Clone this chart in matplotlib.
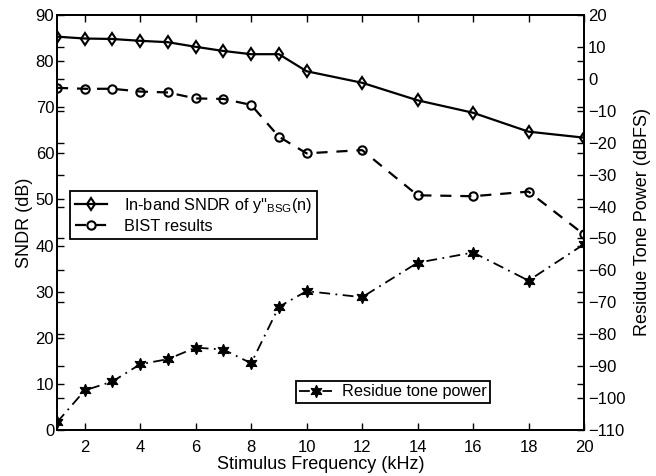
import matplotlib
matplotlib.use("Agg")
import matplotlib.pyplot as plt
import numpy as np

plt.rcParams['font.family'] = ['Liberation Sans', 'DejaVu Sans']
plt.rcParams['mathtext.fontset'] = 'custom'
plt.rcParams['mathtext.rm'] = 'Liberation Sans'
plt.rcParams['mathtext.it'] = 'Liberation Sans'
plt.rcParams['mathtext.default'] = 'regular'

freq = [1, 2, 3, 4, 5, 6, 7, 8, 9, 10, 12, 14, 16, 18, 20]
sndr = [85.3, 84.9, 84.8, 84.4, 84.1, 83.1, 82.2, 81.5, 81.5, 77.8, 75.3, 71.5, 68.8, 64.7, 63.4]
bist = [74.2, 74.0, 74.0, 73.4, 73.2, 71.9, 71.8, 70.5, 63.6, 60.0, 60.7, 50.9, 50.7, 51.7, 42.4]
residue = [-107.6, -97.6, -94.8, -89.4, -87.8, -84.2, -84.8, -89.1, -71.4, -66.5, -68.4, -57.6, -54.4, -63.2, -51.8]

xticks = [2, 4, 6, 8, 10, 12, 14, 16, 18, 20]
yticks_left = list(range(0, 91, 10))
yticks_right = list(range(-110, 21, 10))

fig = plt.figure(figsize=(6.56, 4.76), dpi=100)
ax = fig.add_axes([57/656, 1-430/476, (584-57)/656, (430-15)/476])
ax2 = ax.twinx()

fs = 12
lfs = 13
gfs = 11.7
l1, = ax.plot(freq, sndr, '-', color='black', lw=1.6, marker='d', ms=6.5,
              mfc='none', mec='black', mew=1.5, label=r"In-band SNDR of y''$_{BSG}$(n)")
l2, = ax.plot(freq, bist, '--', color='black', lw=1.6, marker='o', ms=6,
              mfc='none', mec='black', mew=1.5, dashes=(5, 4), label='BIST results')
l3, = ax2.plot(freq, residue, '-.', color='black', lw=1.3, marker=(6, 1, 0), ms=9,
               mfc='black', mec='black', mew=0.8, dashes=(6, 3, 1, 3), label='Residue tone power')

ax.set_xlim(1, 20)
ax.set_ylim(0, 90)
ax2.set_ylim(-110, 20)
ax.set_xticks(xticks)
ax.set_yticks(yticks_left)
ax2.set_yticks(yticks_right)

# MATLAB-style: ticks of each y axis mirrored on the opposite side
ax.set_yticks([(v + 110) * 90 / 130 for v in yticks_right], minor=True)
ax2.set_yticks([v * 130 / 90 - 110 for v in yticks_left], minor=True)

ax.tick_params(axis='both', which='both', direction='in', top=True, labelsize=fs, length=5, width=1)
ax.tick_params(axis='y', which='minor', left=True, right=False, length=5)
ax2.tick_params(axis='y', which='both', direction='in', labelsize=fs, length=5, width=1, pad=3)
ax.tick_params(axis='y', which='major', right=False, pad=2)
ax.tick_params(axis='x', pad=7)

for sp in ax.spines.values():
    sp.set_linewidth(1.3)
for sp in ax2.spines.values():
    sp.set_linewidth(1.3)

ax.set_xlabel('Stimulus Frequency (kHz)', fontsize=lfs, labelpad=1)
ax.set_ylabel('SNDR (dB)', fontsize=lfs, labelpad=2)
ax2.set_ylabel('Residue Tone Power (dBFS)', fontsize=lfs, labelpad=6)

leg1 = ax2.legend(handles=[l1, l2], loc='upper left', bbox_to_anchor=(70/656, 1-191/476),
                  bbox_transform=fig.transFigure, borderaxespad=0, fancybox=False,
                  edgecolor='black', framealpha=1, fontsize=gfs, handlelength=2.0,
                  handletextpad=1.0, borderpad=0.3, labelspacing=0.25)
leg1.get_frame().set_linewidth(1.3)
ax2.add_artist(leg1)
leg2 = ax2.legend(handles=[l3], loc='upper left', bbox_to_anchor=(296/656, 1-381/476),
                  bbox_transform=fig.transFigure, borderaxespad=0, fancybox=False,
                  edgecolor='black', framealpha=1, fontsize=gfs, handlelength=2.0,
                  handletextpad=0.6, borderpad=0.2)
leg2.get_frame().set_linewidth(1.3)

fig.savefig('out.png', dpi=100)
